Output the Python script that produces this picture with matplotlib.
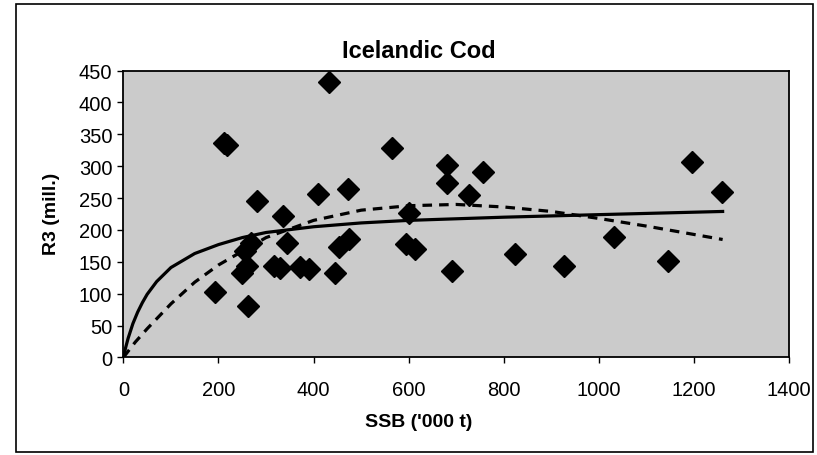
import matplotlib
matplotlib.use("Agg")
import matplotlib.pyplot as plt
from matplotlib.patches import Rectangle

plt.rcParams['font.family'] = ['Liberation Sans', 'DejaVu Sans']

# observed stock / recruitment pairs
ssb = [192, 211, 217, 249, 256, 260, 263, 268, 281, 316, 330, 336, 344, 372, 390,
       409, 432, 446, 453, 473, 474, 565, 594, 600, 614, 681, 681, 692, 727, 757,
       823, 926, 1032, 1145, 1196, 1259]
r3 = [102, 336, 333, 132, 167, 144, 81, 180, 245, 143, 141, 222, 180, 142, 139,
      256, 432, 133, 173, 265, 186, 328, 178, 226, 170, 302, 273, 136, 255, 291,
      162, 143, 189, 152, 306, 259]

# solid curve
solid_x = [0, 5, 10, 20, 30, 40, 50, 70, 100, 150, 200, 250, 300, 400, 500, 600, 800, 1000, 1260]
solid_y = [0, 16, 30, 53, 71, 86, 99, 119, 141, 163, 177, 188, 196, 205, 211, 215, 220, 224, 229]

# dashed curve
dash_x = [0, 25, 50, 100, 150, 200, 300, 400, 500, 600, 700, 800, 900, 1000, 1100, 1260]
dash_y = [0, 24, 45, 84, 118, 145, 188, 215, 231, 238, 240, 236, 229, 218, 206, 185]

fig = plt.figure(figsize=(8.17, 4.56), dpi=100)
ax = fig.add_axes([0.151, 0.214, 0.815, 0.629])
ax.set_facecolor('#cbcbcb')

ax.plot(solid_x, solid_y, color='black', lw=2.3, zorder=3)
ax.plot(dash_x, dash_y, color='black', lw=2.3, ls=(0, (3, 2.2)), zorder=3)
ax.plot(ssb, r3, ls='none', marker='D', ms=11, color='black', zorder=4)

ax.set_xlim(0, 1400)
ax.set_ylim(0, 450)
ax.set_xticks(range(0, 1401, 200))
ax.set_yticks(range(0, 451, 50))
ax.tick_params(labelsize=14.5, length=4, width=1, direction='out', pad=4)
ax.tick_params(axis='x', pad=12)
for s in ax.spines.values():
    s.set_linewidth(1.3)

fig.text(0.513, 0.074, "SSB ('000 t)", ha='center', va='center', fontsize=14, fontweight='bold')
fig.text(0.063, 0.53, "R3 (mill.)", ha='center', va='center', rotation=90, fontsize=14, fontweight='bold')
fig.text(0.513, 0.886, "Icelandic Cod", ha='center', va='center', fontsize=17, fontweight='bold')

fig.patches.append(Rectangle((0.02, 0.007), 0.975, 0.982, transform=fig.transFigure,
                             fill=False, edgecolor='black', lw=1.2))

fig.savefig('out.png', dpi=100)
